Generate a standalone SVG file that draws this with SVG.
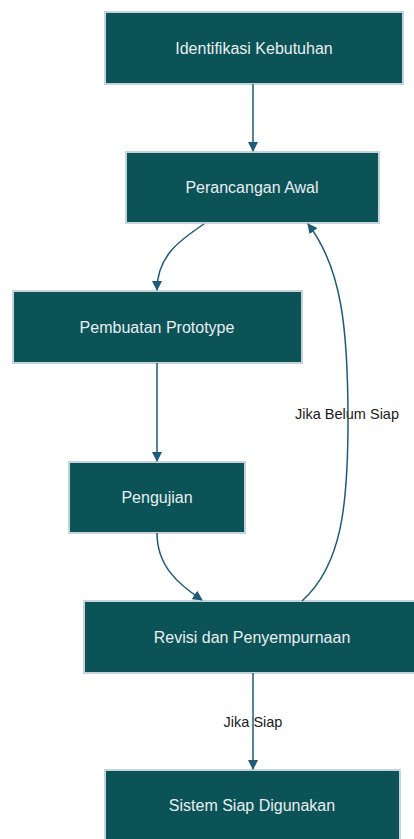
<svg xmlns="http://www.w3.org/2000/svg" width="414" height="839" viewBox="0 0 414 839">
<defs>
<style>
.node rect{fill:#0b5357;stroke:#c5d3dc;stroke-width:2}
.node text{fill:#e9eef0;font-family:"Liberation Sans",Arial,sans-serif;font-size:16px;text-anchor:middle;dominant-baseline:central}
.edge{fill:none;stroke:#1f5a78;stroke-width:1.5}
.lbl{fill:#1a1a1a;font-family:"Liberation Sans",Arial,sans-serif;font-size:14.5px;text-anchor:middle;dominant-baseline:central}
</style>
<marker id="arr" viewBox="0 0 10 10" refX="9" refY="5" markerWidth="10" markerHeight="10" markerUnits="userSpaceOnUse" orient="auto">
<path d="M0,0 L10,5 L0,10 z" fill="#1f5a78"/>
</marker>
</defs>
<rect width="414" height="839" fill="#ffffff"/>
<g id="n1" class="node"><rect x="105" y="12" width="298" height="72"/><text x="254" y="48">Identifikasi Kebutuhan</text></g>
<g id="n2" class="node"><rect x="126" y="152" width="253" height="71"/><text x="252" y="187">Perancangan Awal</text></g>
<g id="n3" class="node"><rect x="13" y="291" width="289" height="72"/><text x="157" y="327">Pembuatan Prototype</text></g>
<g id="n4" class="node"><rect x="69" y="462" width="176" height="71"/><text x="157" y="497">Pengujian</text></g>
<g id="n5" class="node"><rect x="84" y="601" width="340" height="72"/><text x="252" y="637">Revisi dan Penyempurnaan</text></g>
<g id="n6" class="node"><rect x="105" y="770" width="295" height="74"/><text x="252" y="805">Sistem Siap Digunakan</text></g>
<g id="edges">
<text class="lbl" x="347" y="414">Jika Belum Siap</text>
<text class="lbl" x="253" y="722">Jika Siap</text>
<path class="edge" marker-end="url(#arr)" d="M253,84 L253,151"/>
<path class="edge" marker-end="url(#arr)" d="M204,224 C180,240 157,256 157,290"/>
<path class="edge" marker-end="url(#arr)" d="M157,363 L157,461"/>
<path class="edge" marker-end="url(#arr)" d="M157,533 C157,566 178,584 202,600"/>
<path class="edge" marker-end="url(#arr)" d="M302,601 C342,565 348,505 348,420 C348,330 342,268 308,224"/>
<path class="edge" marker-end="url(#arr)" d="M253,673 L253,769"/>
</g>
</svg>
